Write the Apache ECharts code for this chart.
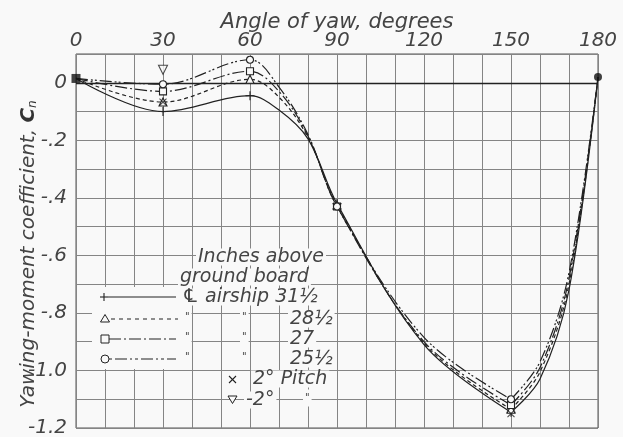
<!DOCTYPE html>
<html><head><meta charset="utf-8">
<script src="https://cdn.jsdelivr.net/npm/echarts@6/dist/echarts.min.js"></script>
<style>html,body{margin:0;padding:0;background:#f9f9f9}#c{width:623px;height:437px}</style>
</head><body><div id="c"></div>
<script>
// ---- data ----
const xTickValues = [0, 30, 60, 90, 120, 150, 180];
const xTickLabels = ['0', '30', '60', '90', '120', '150', '180'];
const yTickValues = [0, -0.2, -0.4, -0.6, -0.8, -1.0, -1.2];
const yTickLabels = ['0', '-.2', '-.4', '-.6', '-.8', '-1.0', '-1.2'];

// measured points (with markers)
const measuredAngles = [0, 30, 60, 90, 150, 180];
const cn31 = [0.015, -0.100, -0.045, -0.420, -1.145, 0.020];   // 31 1/2 in, plus, solid
const cn28 = [0.015, -0.067, 0.012, -0.425, -1.135, 0.020];    // 28 1/2 in, triangle, dashed
const cn27 = [0.015, -0.030, 0.040, -0.430, -1.120, 0.020];    // 27 in, square, dash-dot
const cn25 = [0.015, -0.005, 0.080, -0.430, -1.100, 0.020];    // 25 1/2 in, circle, dash-dot-dot

// readings of the drawn faired curves between markers
const curveAngles = [70, 80, 120, 160, 170];
const curve31 = [-0.095, -0.195, -0.910, -1.030, -0.720];
const curve28 = [-0.050, -0.190, -0.905, -1.005, -0.700];
const curve27 = [-0.030, -0.185, -0.900, -0.990, -0.680];
const curve25 = [-0.015, -0.180, -0.885, -0.970, -0.660];

// pitched-model points
const pitchPlusAngles = [30, 150];
const pitchPlusCn = [-0.067, -1.150];
const pitchMinusAngles = [30];
const pitchMinusCn = [0.045];

// coincident points of all heights
const commonAngles = [0, 180];
const commonCn = [0.015, 0.020];

// ---- build ----
const INK = '#222';
const BG = '#f9f9f9';
const FONT = '"DejaVu Sans", sans-serif';

function pairs(xs, ys) { return xs.map((x, i) => [x, ys[i]]); }
function curvePoints(meas, curve) {
  return pairs(measuredAngles, meas).concat(pairs(curveAngles, curve)).sort((a, b) => a[0] - b[0]);
}
const PLUS = 'path://M0,5L10,5M5,0L5,10';
const CROSS = 'path://M0,0L10,10M10,0L0,10';

const defs = [
  { name: '31 1/2', meas: cn31, curve: curve31, dash: 'solid', symbol: PLUS, size: 9 },
  { name: '28 1/2', meas: cn28, curve: curve28, dash: [4, 3], symbol: 'triangle', size: 8 },
  { name: '27', meas: cn27, curve: curve27, dash: [12, 3, 2, 3], symbol: 'rect', size: 7 },
  { name: '25 1/2', meas: cn25, curve: curve25, dash: [12, 3, 2, 2, 2, 3], symbol: 'circle', size: 7 }
];

const series = [];
defs.forEach((d, k) => {
  const pts = curvePoints(d.meas, d.curve);
  const left = pts.filter(p => p[0] <= 150);
  const right = pts.filter(p => p[0] >= 150);
  const ls = { color: INK, width: 1.2, type: d.dash };
  series.push({ type: 'line', name: d.name, data: left, smooth: 0.35, showSymbol: false, lineStyle: ls, z: 3,
    markLine: k === 0 ? { silent: true, symbol: 'none', label: { show: false },
      lineStyle: { color: INK, width: 1.3, type: 'solid' }, data: [{ yAxis: 0 }] } : undefined });
  series.push({ type: 'line', name: d.name, data: right, smooth: 0.35, showSymbol: false, lineStyle: ls, z: 3 });
  series.push({ type: 'scatter', name: d.name, data: pairs(measuredAngles, d.meas).filter(p => p[0] !== 0 && p[0] !== 180),
    symbol: d.symbol, symbolSize: d.size, z: 5,
    itemStyle: { color: d.symbol === PLUS ? 'none' : BG, borderColor: INK, borderWidth: 1.1, opacity: 1 } });
});
series.push({ type: 'scatter', name: '2 deg pitch', data: pairs(pitchPlusAngles, pitchPlusCn), symbol: CROSS, symbolSize: 7, z: 6,
  itemStyle: { color: 'none', borderColor: INK, borderWidth: 1.1 } });
series.push({ type: 'scatter', name: '-2 deg pitch', data: pairs(pitchMinusAngles, pitchMinusCn), symbol: 'triangle', symbolRotate: 180,
  symbolSize: 9, z: 6, itemStyle: { color: BG, borderColor: INK, borderWidth: 1.1 } });
series.push({ type: 'scatter', name: 'common', data: [
    { value: [commonAngles[0], commonCn[0]], symbol: 'rect', symbolSize: 9 },
    { value: [commonAngles[1], commonCn[1]], symbol: 'circle', symbolSize: 8 }
  ], z: 7, itemStyle: { color: '#111' } });

// ---- legend graphics (inside plot) ----
const TXT = '#444';
function txt(x, y, s, size, extra) {
  return Object.assign({ type: 'text', x: x, y: y, z: 20, style: { text: s, font: 'italic ' + (size || 19) + 'px ' + FONT,
    fill: TXT, verticalAlign: 'middle', backgroundColor: BG, padding: [0, 2], lineHeight: 17 } }, extra || {});
}
function seg(x1, y1, x2, y2, dash) {
  return { type: 'line', z: 20, shape: { x1, y1, x2, y2 }, style: { stroke: INK, lineWidth: 1.1, lineDash: dash || null } };
}
const g = [];
g.push({ type: 'rect', z: 19, shape: { x: 92, y: 287, width: 97, height: 82 }, style: { fill: BG } });
g.push(txt(196, 257, 'Inches above'));
g.push(txt(178, 277, 'ground board'));
g.push(txt(180, 297, '\u2104 airship 31\u00BD'));
// row 31 1/2
g.push(seg(100, 297, 108, 297), seg(104, 293, 104, 301), seg(108, 297, 176, 297));
// row 28 1/2
g.push({ type: 'polygon', z: 20, shape: { points: [[105, 314.5], [100.5, 322], [109.5, 322]] }, style: { fill: BG, stroke: INK, lineWidth: 1 } });
g.push(seg(111, 319, 178, 319, [4, 4]));
g.push(txt(183, 317, '"', 10), txt(240, 317, '"', 10), txt(288, 319, '28\u00BD'));
// row 27
g.push({ type: 'rect', z: 20, shape: { x: 101, y: 335, width: 8, height: 8 }, style: { fill: BG, stroke: INK, lineWidth: 1 } });
g.push(seg(109, 339, 176, 339, [12, 3, 2, 3]));
g.push(txt(183, 337, '"', 10), txt(240, 337, '"', 10), txt(288, 339, '27'));
// row 25 1/2
g.push({ type: 'circle', z: 20, shape: { cx: 105, cy: 359, r: 4 }, style: { fill: BG, stroke: INK, lineWidth: 1 } });
g.push(seg(109, 359, 176, 359, [3, 3, 12, 3, 2, 3]));
g.push(txt(183, 357, '"', 10), txt(240, 357, '"', 10), txt(288, 359, '25\u00BD'));
// pitch rows
g.push(seg(229, 376, 236, 383), seg(236, 376, 229, 383));
g.push(txt(251, 379, '2\u00B0 Pitch'));
g.push({ type: 'polygon', z: 20, shape: { points: [[228, 396], [237, 396], [232.5, 403.5]] }, style: { fill: BG, stroke: INK, lineWidth: 1 } });
g.push(txt(244, 400, '-2\u00B0'));
g.push(txt(303, 398, '"', 10));

const chart = echarts.init(document.getElementById('c'), null, { renderer: 'canvas' });
chart.setOption({
  backgroundColor: BG,
  animation: false,
  grid: { left: 76, right: 25, top: 54, bottom: 9, show: true, borderColor: '#555', borderWidth: 1, backgroundColor: 'transparent',
    containLabel: false, outerBoundsMode: 'none' },
  xAxis: {
    type: 'value', position: 'top', min: 0, max: 180, interval: 10,
    name: 'Angle of yaw, degrees', nameLocation: 'middle', nameGap: 21, nameMoveOverlap: false,
    nameTextStyle: { fontFamily: FONT, fontStyle: 'italic', fontSize: 21, color: TXT },
    axisLine: { show: false }, axisTick: { show: false },
    axisLabel: { margin: 3, fontFamily: FONT, fontStyle: 'italic', fontSize: 20, color: TXT,
      formatter: v => { const i = xTickValues.indexOf(Math.round(v)); return i >= 0 ? xTickLabels[i] : ''; } },
    splitLine: { show: true, lineStyle: { color: '#858585', width: 1 } }
  },
  yAxis: {
    type: 'value', min: -1.2, max: 0.1, interval: 0.1,
    name: 'Yawing-moment coefficient, {c|C}{n|n}', nameLocation: 'middle', nameGap: 37, nameRotate: 90, nameMoveOverlap: false,
    nameTextStyle: { fontFamily: FONT, fontStyle: 'italic', fontSize: 20, color: TXT, padding: [0, 26, 0, 0],
      rich: { c: { fontFamily: FONT, fontStyle: 'italic', fontWeight: 'bold', fontSize: 20, color: '#333' },
              n: { fontFamily: FONT, fontStyle: 'italic', fontSize: 12, color: '#333', padding: [7, 0, 0, 0] } } },
    axisLine: { show: false }, axisTick: { show: false },
    axisLabel: { margin: 9, fontFamily: FONT, fontStyle: 'italic', fontSize: 20, color: TXT,
      formatter: v => { const r = Math.round(v * 10); const i = yTickValues.findIndex(t => Math.round(t * 10) === r); return i >= 0 ? yTickLabels[i] : ''; } },
    splitLine: { show: true, lineStyle: { color: '#858585', width: 1 } }
  },
  graphic: g,
  series: series
});
</script></body></html>
